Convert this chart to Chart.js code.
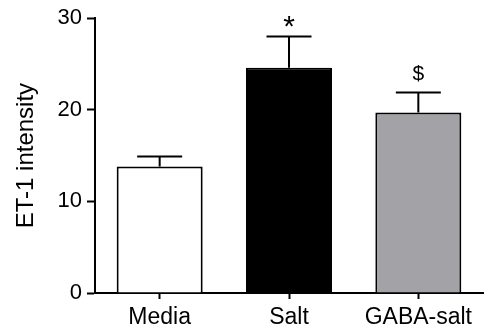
<!DOCTYPE html>
<html>
<head>
<meta charset="utf-8">
<script src="https://cdn.jsdelivr.net/npm/chart.js@4"></script>
<style>
  html, body { margin: 0; padding: 0; background: #fff; }
  #wrap { width: 485px; height: 335px; }
</style>
</head>
<body>
<div id="wrap"><canvas id="chart-et1" width="485" height="335"></canvas></div>
<script>
var groups = ["Media", "Salt", "GABA-salt"];
var means = [13.8, 24.6, 19.7];
var sems = [1.1, 3.4, 2.2];
var marks = ["", "*", "$"];
var fills = ["#ffffff", "#000000", "#a3a2a7"];
var yTicks = [0, 10, 20, 30];

var fontFamily = "'Liberation Sans', Arial, sans-serif";

// upper error bars and the significance marks above them
var errorBars = {
    id: 'errorBars',
    afterDatasetsDraw: function (chart) {
        var ctx = chart.ctx;
        var yScale = chart.scales.y;
        var meta = chart.getDatasetMeta(0);
        ctx.save();
        ctx.strokeStyle = '#000';
        ctx.lineWidth = 2;
        ctx.fillStyle = '#000';
        ctx.textAlign = 'center';
        for (var i = 0; i < means.length; i++) {
            var x = meta.data[i].x;
            var yBar = yScale.getPixelForValue(means[i]);
            var yTop = yScale.getPixelForValue(means[i] + sems[i]);
            ctx.beginPath();
            ctx.moveTo(x, yBar);
            ctx.lineTo(x, yTop);
            ctx.moveTo(x - 22.5, yTop);
            ctx.lineTo(x + 22.5, yTop);
            ctx.stroke();
            if (marks[i]) {
                // asterisk glyph is tiny in Arial, so bump it up
                ctx.font = (marks[i] == '*' ? 30 : 21) + 'px ' + fontFamily;
                var m = ctx.measureText(marks[i]);
                ctx.textBaseline = 'alphabetic';
                ctx.fillText(marks[i], x, yTop - 10 - m.actualBoundingBoxDescent);
            }
        }
        ctx.restore();
    }
};

var myChart = new Chart(document.getElementById('chart-et1'), {
    type: 'bar',
    data: {
        labels: groups,
        datasets: [{
            data: means,
            backgroundColor: fills,
            borderColor: '#000',
            borderWidth: 2,
            barPercentage: 0.665,
            categoryPercentage: 1
        }]
    },
    options: {
        responsive: false,
        animation: false,
        events: [],
        layout: { padding: { top: 16, right: 2, left: 0, bottom: 0 } },
        plugins: {
            legend: { display: false },
            tooltip: { enabled: false }
        },
        scales: {
            x: {
                grid: { display: true, drawOnChartArea: false, offset: false, tickLength: 6, tickWidth: 2, tickColor: '#000' },
                border: { display: true, color: '#000', width: 2 },
                ticks: { color: '#000', padding: 5, font: { family: fontFamily, size: 23 } },
                afterFit: function (scale) { scale.height = 42; }
            },
            y: {
                min: 0,
                max: 30,
                afterBuildTicks: function (scale) {
                    scale.ticks = yTicks.map(function (v) { return { value: v }; });
                },
                grid: { display: true, drawOnChartArea: false, tickLength: 8, tickWidth: 2, tickColor: '#000' },
                border: { display: true, color: '#000', width: 2 },
                ticks: { color: '#000', padding: 5, font: { family: fontFamily, size: 22 } },
                title: {
                    display: true,
                    text: 'ET-1 intensity',
                    color: '#000',
                    padding: { top: 12, bottom: 0 },
                    font: { family: fontFamily, size: 24 }
                },
                afterFit: function (scale) { scale.width = 95; }
            }
        }
    },
    plugins: [errorBars]
});
</script>
</body>
</html>
